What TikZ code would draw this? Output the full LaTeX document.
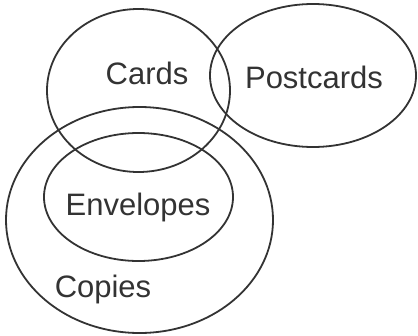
\documentclass[tikz,border=0pt]{standalone}
\usepackage{fontspec}
\setmainfont{Liberation Sans}
\begin{document}
\begin{tikzpicture}[x=1pt,y=1pt,
  setline/.style={draw=black!80, line width=1.8pt},
  lbl/.style={anchor=base, inner sep=0pt, text=black!80, font=\fontsize{31}{31}\selectfont}]
\useasboundingbox (0,0) rectangle (418,-335);
\draw[setline] (138.5,-90.5) ellipse [x radius=91.5, y radius=81.5];
\draw[setline] (313,-75.5) ellipse [x radius=103, y radius=71.5];
\draw[setline] (139.5,-220) ellipse [x radius=133.5, y radius=113];
\draw[setline] (138.5,-197) ellipse [x radius=94.5, y radius=64];
\node[lbl] (cards) at (147,-84) {Cards};
\node[lbl] (postcards) at (314,-88) {Postcards};
\node[lbl] (envelopes) at (138,-215) {Envelopes};
\node[lbl] (copies) at (103,-297) {Copies};
\end{tikzpicture}
\end{document}
